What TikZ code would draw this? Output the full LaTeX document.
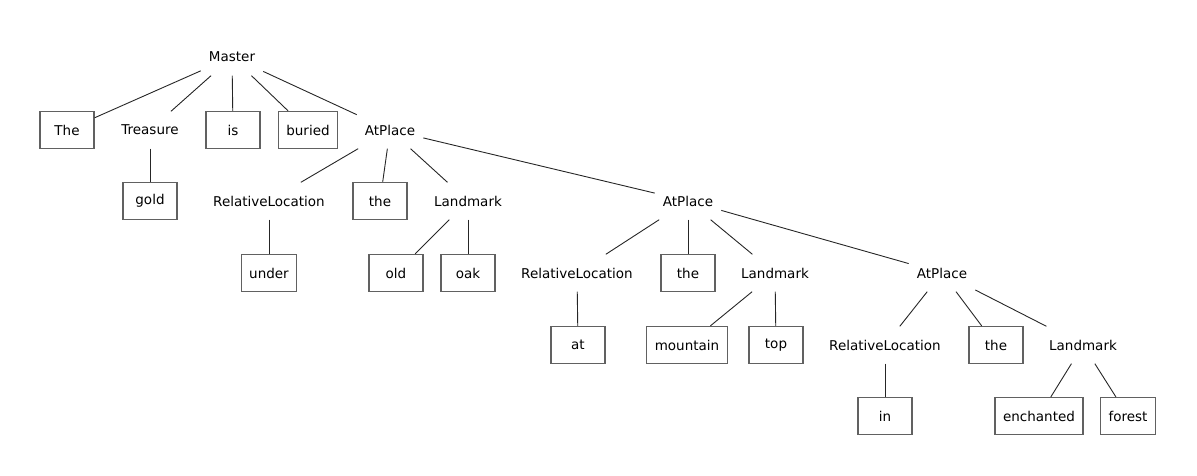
\documentclass[tikz,border=0pt]{standalone}
\usepackage{fontspec}
\setmainfont{DejaVu Sans}
\begin{document}
\begin{tikzpicture}[x=1pt,y=-1pt,
  every node/.style={font=\fontsize{13.5}{16}\selectfont, inner xsep=8pt, inner ysep=0pt, minimum height=37pt, anchor=center},
  leaf/.style={draw=black!62, line width=1.3pt, minimum width=54pt},
  cat/.style={},
  link/.style={draw=black!85, line width=0.9pt}]
\useasboundingbox (0,0) rectangle (1197,476);
\node[cat] (master) at (232,57) {Master};
\node[leaf] (the0) at (67,130) {The};
\node[cat] (treasure) at (150,130) {Treasure};
\node[leaf] (is) at (233,130) {is};
\node[leaf] (buried) at (308,130) {buried};
\node[cat] (ap1) at (390,130) {AtPlace};
\node[leaf] (gold) at (150,201) {gold};
\node[cat] (rl1) at (269,201) {RelativeLocation};
\node[leaf] (the1) at (380,201) {the};
\node[cat] (lm1) at (468,201) {Landmark};
\node[cat] (ap2) at (688,201) {AtPlace};
\node[leaf] (under) at (269,273) {under};
\node[leaf] (old) at (396,273) {old};
\node[leaf] (oak) at (468,273) {oak};
\node[cat] (rl2) at (577,273) {RelativeLocation};
\node[leaf] (the2) at (688,273) {the};
\node[cat] (lm2) at (775,273) {Landmark};
\node[cat] (ap3) at (942,273) {AtPlace};
\node[leaf] (at) at (578,345) {at};
\node[leaf] (mountain) at (687,345) {mountain};
\node[leaf] (top) at (776,345) {top};
\node[cat] (rl3) at (885,345) {RelativeLocation};
\node[leaf] (the3) at (996,345) {the};
\node[cat] (lm3) at (1083,345) {Landmark};
\node[leaf] (in) at (885,416) {in};
\node[leaf] (enchanted) at (1039,416) {enchanted};
\node[leaf] (forest) at (1128,416) {forest};
\foreach \a/\b in {master/the0, master/treasure, master/is, master/buried, master/ap1,
  treasure/gold, ap1/rl1, ap1/the1, ap1/lm1, ap1/ap2,
  rl1/under, lm1/old, lm1/oak,
  ap2/rl2, ap2/the2, ap2/lm2, ap2/ap3,
  rl2/at, lm2/mountain, lm2/top,
  ap3/rl3, ap3/the3, ap3/lm3,
  rl3/in, lm3/enchanted, lm3/forest}
  \draw[link] (\a) -- (\b);
\end{tikzpicture}
\end{document}
